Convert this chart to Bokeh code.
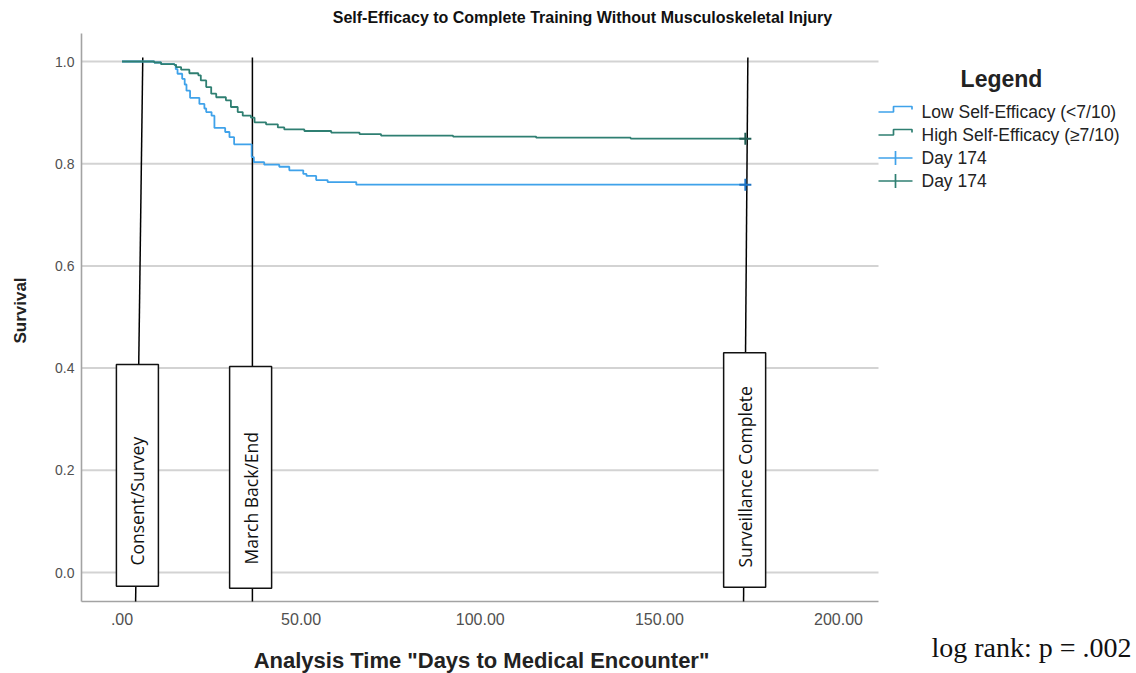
import math
from bokeh.plotting import figure
from bokeh.models import Range1d
from bokeh.core.properties import value
from bokeh.embed import file_html
from bokeh.resources import INLINE

# ---------------- data ----------------
title_text = "Self-Efficacy to Complete Training Without Musculoskeletal Injury"
x_axis_label = 'Analysis Time "Days to Medical Encounter"'
y_axis_label = "Survival"
x_ticks = [0, 50, 100, 150, 200]
x_tick_labels = [".00", "50.00", "100.00", "150.00", "200.00"]
y_ticks = [0.0, 0.2, 0.4, 0.6, 0.8, 1.0]
y_tick_labels = ["0.0", "0.2", "0.4", "0.6", "0.8", "1.0"]

low_days = [0, 9.0, 10.9, 14.6, 15.0, 15.5, 16.8, 17.5, 18.0, 19.0, 21.6, 23.0, 23.5,
            25.0, 25.8, 28.8, 30.0, 31.3, 36.2, 36.8, 39.7, 43.9, 46.7, 50.6, 51.5,
            54.2, 57.4, 65.4, 174]
low_surv = [1.0, 0.998, 0.995, 0.9935, 0.985, 0.976, 0.966, 0.955, 0.943, 0.929, 0.917,
            0.908, 0.901, 0.894, 0.870, 0.862, 0.852, 0.838, 0.813, 0.803, 0.798, 0.794,
            0.787, 0.780, 0.776, 0.768, 0.764, 0.759, 0.759]

high_days = [0, 9.0, 10.9, 14.6, 15.1, 16.5, 18.8, 21.3, 22.0, 23.5, 24.9, 26.3, 29.0,
             30.4, 32.3, 33.7, 36.0, 37.0, 40.2, 43.5, 45.3, 50.9, 58.4, 66.3, 72.3,
             92.4, 115.6, 142.0, 174]
high_surv = [1.0, 0.998, 0.995, 0.9935, 0.989, 0.984, 0.977, 0.973, 0.963, 0.950, 0.937,
             0.930, 0.924, 0.911, 0.901, 0.894, 0.890, 0.881, 0.877, 0.871, 0.867, 0.864,
             0.861, 0.858, 0.855, 0.853, 0.851, 0.849, 0.849]

censor_day = [174, 174]
censor_surv = [0.759, 0.849]

series_names = ["Low Self-Efficacy (<7/10)", "High Self-Efficacy (\u22657/10)", "Day 174", "Day 174"]

event_names = ["Consent/Survey", "March Back/End", "Surveillance Complete"]
event_day_top = [5.8, 36.4, 174.7]
event_day_bottom = [3.8, 36.4, 173.5]
event_box_center = [4.3, 35.9, 173.8]
event_box_top = [0.407, 0.403, 0.430]
event_box_bottom = [-0.027, -0.031, -0.029]

stat_text = "log rank: p = .002"

# ---------------- layout / styles ----------------
LOW_C = "#3fa2ea"
HIGH_C = "#2f7f72"
LOW_CENSOR = "#1f74c4"
HIGH_CENSOR = "#1f5d53"
GRID_C = "#d3d3d3"
AXIS_C = "#a3a3a3"
FONT = "Liberation Sans"

W, H = 1136, 673
PAGE_X0, PAGE_Y0 = 0, 0           # figure position on the page
PX_DAY0 = 121.5                   # page x of day 0
PX_PER_DAY = 3.5825
PY_S0 = 572.0                     # page y of survival 0
PY_PER_UNIT = 511.0


def dx(px):
    return (px - PX_DAY0) / PX_PER_DAY


def dy(py):
    return (PY_S0 - py) / PY_PER_UNIT


p = figure(width=W, height=H, output_backend="svg", toolbar_location=None,
           x_range=Range1d(dx(PAGE_X0), dx(PAGE_X0 + W)),
           y_range=Range1d(dy(PAGE_Y0 + H), dy(PAGE_Y0)),
           x_axis_location=None, y_axis_location=None,
           min_border=0, min_border_left=0, min_border_right=0,
           min_border_top=0, min_border_bottom=0)
p.outline_line_color = None
p.grid.visible = False
p.background_fill_color = "white"

x_left, x_right = dx(81), dx(878)
y_top, y_bot = dy(33), dy(601)

# gridlines
p.segment(x0=[x_left] * len(y_ticks), x1=[x_right] * len(y_ticks),
          y0=y_ticks, y1=y_ticks, line_color=GRID_C, line_width=2)
# axis lines
p.segment(x0=[x_left, x_left], x1=[x_right, x_left], y0=[y_bot, y_bot], y1=[y_bot, y_top],
          line_color=AXIS_C, line_width=1.6)

# tick labels
p.text(x=[dx(74)] * len(y_ticks), y=y_ticks, text=y_tick_labels, text_align="right",
       text_baseline="middle", text_font=value(FONT), text_font_size="14px",
       text_color="#505050")
p.text(x=x_ticks, y=[dy(618)] * len(x_ticks), text=x_tick_labels, text_align="center",
       text_baseline="middle", text_font=value(FONT), text_font_size="16px",
       text_color="#505050")
# axis titles
p.text(x=[dx(20)], y=[dy(310)], text=[y_axis_label], angle=math.pi / 2,
       text_align="center", text_baseline="middle", text_font=value(FONT),
       text_font_style="bold", text_font_size="17px", text_color="#222222")
p.text(x=[dx(481)], y=[dy(660)], text=[x_axis_label], text_align="center",
       text_baseline="middle", text_font=value(FONT), text_font_style="bold",
       text_font_size="22px", text_color="#222222")
p.text(x=[dx(582)], y=[dy(17)], text=[title_text], text_align="center",
       text_baseline="middle", text_font=value(FONT), text_font_style="bold",
       text_font_size="16px", text_color="#111111")
p.text(x=[dx(1031)], y=[dy(647)], text=[stat_text], text_align="center",
       text_baseline="middle", text_font=value("Liberation Serif"),
       text_font_size="28px", text_color="#111111")

# event lines
p.segment(x0=event_day_top, y0=[dy(57)] * 3, x1=event_day_bottom, y1=[dy(601)] * 3,
          line_color="black", line_width=1.5)

# curves
p.step(low_days, low_surv, mode="after", line_color=LOW_C, line_width=1.8)
p.step(high_days, high_surv, mode="after", line_color=HIGH_C, line_width=1.8)
p.scatter(censor_day[:1], censor_surv[:1], marker="cross", size=12, line_width=2,
          line_color=LOW_CENSOR)
p.scatter(censor_day[1:], censor_surv[1:], marker="cross", size=12, line_width=2,
          line_color=HIGH_CENSOR)

# event boxes
box_w = 42 / PX_PER_DAY
p.quad(left=[c - box_w / 2 for c in event_box_center],
       right=[c + box_w / 2 for c in event_box_center],
       top=event_box_top, bottom=event_box_bottom,
       fill_color="white", line_color="#111111", line_width=1.5)
text_start = [dy(565), dy(564), dy(567)]
p.text(x=event_box_center, y=text_start, text=event_names, angle=math.pi / 2,
       text_align="left", text_baseline="middle", text_font=value("Open Sans"),
       text_font_size="17.5px", text_color="#111111")

# legend
p.text(x=[dx(1001)], y=[dy(78)], text=["Legend"], text_align="center",
       text_baseline="middle", text_font=value(FONT), text_font_style="bold",
       text_font_size="23px", text_color="#222222")
rows = [111.5, 134.5, 157.5, 180.5]
leg_colors = [LOW_C, HIGH_C, LOW_C, HIGH_C]
for i, (ry, col) in enumerate(zip(rows, leg_colors)):
    if i < 2:
        xs = [dx(878), dx(893), dx(893), dx(911.5), dx(911.5)]
        ys = [dy(ry), dy(ry), dy(ry - 5.5), dy(ry - 5.5), dy(ry - 2.5)]
        p.line(xs, ys, line_color=col, line_width=1.7)
    else:
        p.line([dx(878), dx(912)], [dy(ry), dy(ry)], line_color=col, line_width=1.7)
        p.line([dx(895), dx(895)], [dy(ry - 7), dy(ry + 7)], line_color=col, line_width=1.7)
p.text(x=[dx(921)] * 4, y=[dy(r) for r in rows], text=series_names, text_align="left",
       text_baseline="middle", text_font=value(FONT), text_font_size="17.5px",
       text_color="#222222")

open("out.html", "w").write(file_html(p, INLINE))
